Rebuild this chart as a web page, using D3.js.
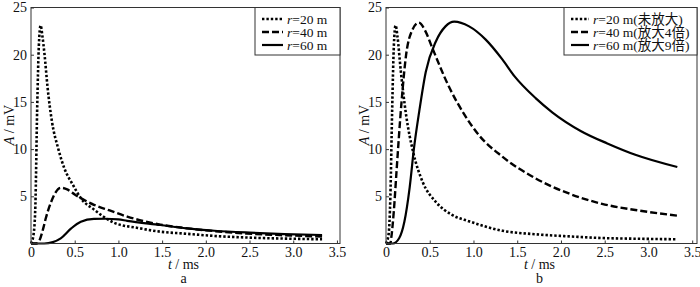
<!DOCTYPE html>
<html>
<head>
<meta charset="utf-8">
<script src="https://cdn.jsdelivr.net/npm/d3@7"></script>
<style>
  body { margin: 0; background: #fff; }
  svg text { font-family: "Liberation Serif", "Times New Roman", "Noto Sans CJK SC", serif !important; fill: #111; }
</style>
</head>
<body>
<div id="chart"></div>
<script>
// ---- data ----
const xTicks = [0, 0.5, 1.0, 1.5, 2.0, 2.5, 3.0, 3.5]
const yTicks = [5, 10, 15, 20, 25]

// panel a: raw amplitudes
const aT20 = [0, 0.03, 0.05, 0.07, 0.09, 0.11, 0.13, 0.155, 0.19, 0.24, 0.31, 0.38, 0.48, 0.57, 0.72, 0.95, 1.22, 1.48, 1.75, 2.1, 2.5, 2.9, 3.33]
const aA20 = [0, 1.0, 4.0, 14, 21, 23.1, 22, 20, 16.5, 12.9, 10.1, 8.0, 6.2, 4.8, 3.6, 2.2, 1.65, 1.25, 1.05, 0.8, 0.62, 0.52, 0.45]
const aT40 = [0, 0.06, 0.1, 0.14, 0.17, 0.23, 0.28, 0.34, 0.42, 0.5, 0.72, 0.9, 1.1, 1.48, 1.75, 2.09, 2.47, 2.85, 3.33]
const aA40 = [0, 0, 0.4, 1.6, 2.7, 4.4, 5.4, 5.9, 5.7, 5.2, 4.1, 3.5, 2.85, 2.0, 1.65, 1.32, 1.05, 0.89, 0.74]
const aT60 = [0, 0.15, 0.25, 0.34, 0.46, 0.57, 0.72, 0.85, 1.0, 1.1, 1.48, 1.78, 2.1, 2.5, 2.9, 3.33]
const aA60 = [0, 0, 0.15, 0.55, 1.6, 2.3, 2.6, 2.62, 2.55, 2.4, 1.96, 1.6, 1.35, 1.15, 1.0, 0.9]

// panel b: amplified amplitudes
const bT20 = [0, 0.03, 0.05, 0.07, 0.09, 0.11, 0.13, 0.17, 0.23, 0.31, 0.42, 0.57, 0.76, 0.95, 1.33, 1.71, 2.1, 2.47, 2.9, 3.33]
const bA20 = [0, 1.0, 5, 14, 21, 23.1, 22, 18.2, 13.6, 9.7, 6.5, 4.4, 3.0, 2.35, 1.35, 0.98, 0.75, 0.58, 0.5, 0.45]
const bT40 = [0, 0.05, 0.06, 0.09, 0.12, 0.175, 0.23, 0.3, 0.375, 0.45, 0.53, 0.72, 0.9, 1.06, 1.33, 1.71, 2.09, 2.47, 2.85, 3.33]
const bA40 = [0, 0, 0.6, 3.5, 7.6, 14.7, 20, 22.6, 23.4, 22.5, 20.7, 16.6, 13.6, 11.5, 9.2, 6.9, 5.3, 4.2, 3.55, 2.95]
const bT60 = [0, 0.08, 0.15, 0.21, 0.27, 0.32, 0.38, 0.455, 0.57, 0.68, 0.78, 0.95, 1.14, 1.33, 1.47, 1.71, 1.9, 2.23, 2.53, 2.85, 3.33]
const bA60 = [0, 0, 0.55, 2.3, 5.9, 10.1, 14, 18.2, 21.4, 23, 23.5, 23, 21.6, 19.5, 17.7, 15.4, 13.9, 11.9, 10.6, 9.4, 8.1]

const labelsA = ['=20 m', '=40 m', '=60 m']
const labelsB = ['=20 m(未放大)', '=40 m(放大4倍)', '=60 m(放大9倍)']

// ---- style ----
const serif = '"Liberation Serif", "Times New Roman", "Noto Sans CJK SC", serif'
const styles = [
  { dash: '2.4,2', width: 2.6 },
  { dash: '7,3', width: 2.4 },
  { dash: null, width: 2.2 },
]

const svg = d3.select('#chart').append('svg')
  .attr('width', 700)
  .attr('height', 287)
  .style('font-family', serif)

const zip = (ts, as) => ts.map((t, i) => ({ t, a: as[i] }))

function drawPanel(p) {
  const x = d3.scaleLinear().domain([0, p.tMax]).range([p.left, p.right])
  const y = d3.scaleLinear().domain([0, 25]).range([243.5, 7.5])

  const g = svg.append('g')

  // curves
  const line = d3.line()
    .x(d => x(d.t))
    .y(d => y(d.a))
    .curve(d3.curveMonotoneX)

  p.series.forEach((s, i) => {
    g.append('path')
      .datum(s)
      .attr('fill', 'none')
      .attr('stroke', '#000')
      .attr('stroke-width', styles[i].width)
      .attr('stroke-dasharray', styles[i].dash)
      .attr('d', line)
  })

  // frame
  g.append('rect')
    .attr('x', p.left)
    .attr('y', y(25))
    .attr('width', p.right - p.left)
    .attr('height', y(0) - y(25))
    .attr('fill', 'none')
    .attr('stroke', '#333')
    .attr('stroke-width', 1)

  // x axis
  const xAxis = g.append('g')
    .attr('transform', `translate(0, ${y(0)})`)
    .call(d3.axisBottom(x).tickValues(xTicks).tickSizeInner(-3).tickSizeOuter(0)
      .tickFormat(d => (d === 0 ? '0' : d3.format('.1f')(d))))
  xAxis.attr('font-family', null)
  xAxis.select('.domain').remove()
  xAxis.selectAll('line').attr('stroke', '#333')
  xAxis.selectAll('text')
    .attr('y', 4)
    .attr('font-size', '14px')
    .style('font-family', serif)

  // y axis
  const yAxis = g.append('g')
    .attr('transform', `translate(${p.left}, 0)`)
    .call(d3.axisLeft(y).tickValues(yTicks).tickSizeInner(-3).tickSizeOuter(0))
  yAxis.attr('font-family', null)
  yAxis.select('.domain').remove()
  yAxis.selectAll('line').attr('stroke', '#333')
  yAxis.selectAll('text')
    .attr('x', -4)
    .attr('font-size', '14px')
    .style('font-family', serif)

  // axis labels
  const xl = g.append('text')
    .attr('x', (p.left + p.right) / 2 - 2)
    .attr('y', 269)
    .attr('text-anchor', 'middle')
    .attr('font-size', '14px')
    .style('font-family', serif)
  xl.append('tspan').attr('font-style', 'italic').text('t')
  xl.append('tspan').text(' / ms')

  const yl = g.append('text')
    .attr('transform', `translate(${p.left - 17}, 125) rotate(-90)`)
    .attr('text-anchor', 'middle')
    .attr('font-size', '14px')
    .style('font-family', serif)
  yl.append('tspan').attr('font-style', 'italic').text('A')
  yl.append('tspan').text(' / mV')

  g.append('text')
    .attr('x', (p.left + p.right) / 2 - 2)
    .attr('y', 283)
    .attr('text-anchor', 'middle')
    .attr('font-size', '14px')
    .style('font-family', serif)
    .text(p.tag)

  // legend
  const lg = g.append('g')
  lg.append('rect')
    .attr('x', p.legX)
    .attr('y', y(25))
    .attr('width', p.right - p.legX)
    .attr('height', 55 - y(25))
    .attr('fill', '#fff')
    .attr('stroke', '#333')
    .attr('stroke-width', 1)

  p.labels.forEach((lab, i) => {
    const cy = 19 + i * 13
    lg.append('line')
      .attr('x1', p.legX + 7)
      .attr('x2', p.legX + 7 + p.legLine)
      .attr('y1', cy)
      .attr('y2', cy)
      .attr('stroke', '#000')
      .attr('stroke-width', styles[i].width)
      .attr('stroke-dasharray', styles[i].dash)
    const t = lg.append('text')
      .attr('x', p.legX + 11 + p.legLine)
      .attr('y', cy + 4.5)
      .attr('font-size', '13.5px')
      .style('font-family', serif)
    t.append('tspan').attr('font-style', 'italic').text('r')
    t.append('tspan').text(lab)
  })
}

drawPanel({
  left: 31, right: 340, tMax: 3.535, tag: 'a', legX: 255, legLine: 21,
  labels: labelsA,
  series: [zip(aT20, aA20), zip(aT40, aA40), zip(aT60, aA60)],
})

drawPanel({
  left: 386, right: 697, tMax: 3.555, tag: 'b', legX: 564, legLine: 18,
  labels: labelsB,
  series: [zip(bT20, bA20), zip(bT40, bA40), zip(bT60, bA60)],
})
</script>
</body>
</html>
